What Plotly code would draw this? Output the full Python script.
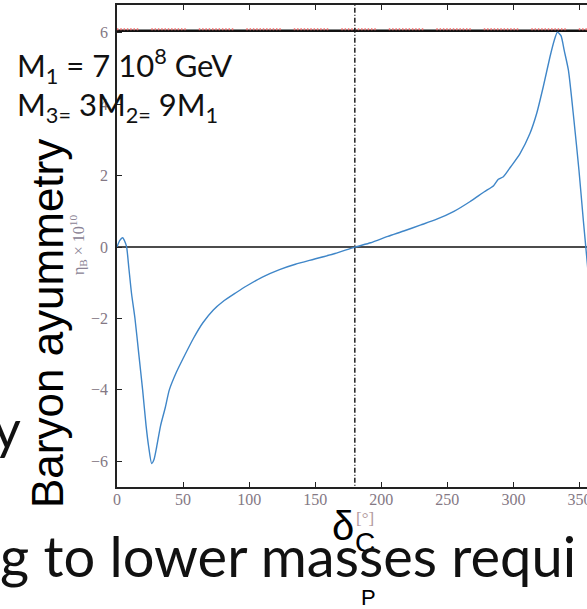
import plotly.graph_objects as go

# ---- data ----
delta_deg = [0, 2, 4.3, 6, 7.3, 9, 11, 13.6, 16.5, 19.4, 22, 24, 26.2, 28, 30, 33, 36.5,
             39.6, 45, 50, 57.8, 65, 72.9, 80, 90, 98, 110, 123, 135, 149, 165, 180, 192,
             205, 217, 230, 242, 255, 267, 278, 285, 288.6, 292.4, 298, 305, 312.5,
             317.6, 322.6, 327.7, 331, 333.3, 336, 338.5, 341.6, 345.8, 349.6, 352.9,
             354.8, 357, 360]
eta_B = [0.0, 0.18, 0.26, 0.15, 0.0, -0.6, -1.3, -2.0, -3.0, -4.0, -5.0, -5.6, -6.06,
         -5.95, -5.6, -5.0, -4.5, -4.0, -3.5, -3.12, -2.56, -2.12, -1.76, -1.53, -1.28,
         -1.09, -0.84, -0.63, -0.48, -0.34, -0.18, 0.0, 0.12, 0.3, 0.45, 0.62, 0.78, 1.0,
         1.27, 1.55, 1.72, 1.9, 1.97, 2.25, 2.62, 3.18, 3.74, 4.49, 5.33, 5.8, 6.02,
         5.92, 5.5, 4.96, 3.56, 2.16, 0.76, 0.0, -0.9, -2.2]
observed_eta = 6.08
cp_conserving = 180
x_ticks = [0, 50, 100, 150, 200, 250, 300, 350]
y_ticks = [-6, -4, -2, 0, 2, 4, 6]
x_range = [0, 355.7]
y_range = [-6.72, 6.78]

# ---- layout geometry (pixels) ----
W, H = 587, 609
L, R, T, B = 117, 587, 5, 487


def px(xp):
    return (xp - L) / (R - L)


def py(yp):
    return (B - yp) / (B - T)


fig = go.Figure()

# observed value band: black line + red dotted overlay
fig.add_trace(go.Scatter(x=[x_range[0] - 10, 370], y=[observed_eta - 0.02, observed_eta - 0.02], mode="lines",
                         line=dict(color="#111111", width=2.4), hoverinfo="skip", showlegend=False))
red_dash = ",".join(["1.5px,1.8px"] * 10 + ["1.5px,13px"])
fig.add_trace(go.Scatter(x=[x_range[0] - 10, 370], y=[observed_eta + 0.02, observed_eta + 0.02], mode="lines",
                         line=dict(color="#f07070", width=2, dash=red_dash), hoverinfo="skip",
                         showlegend=False))
# zero line
fig.add_trace(go.Scatter(x=[x_range[0] - 10, 370], y=[0, 0], mode="lines",
                         line=dict(color="#111111", width=1.4), hoverinfo="skip", showlegend=False))
# vertical dash-dot at 180
fig.add_trace(go.Scatter(x=[cp_conserving, cp_conserving], y=[y_range[0] - 1, y_range[1] + 1], mode="lines",
                         line=dict(color="#111111", width=1.4, dash="5px,2px,1px,2px"),
                         hoverinfo="skip", showlegend=False))
# asymmetry curve
fig.add_trace(go.Scatter(x=delta_deg, y=eta_B, mode="lines",
                         line=dict(color="#3f86c8", width=1.4, shape="spline", smoothing=0.6),
                         showlegend=False))

tick_font = dict(family="Liberation Serif", size=16, color="#847884")

fig.update_layout(
    width=W, height=H,
    margin=dict(l=L, r=W - R, t=T, b=H - B, pad=0),
    paper_bgcolor="white", plot_bgcolor="white",
    xaxis=dict(range=x_range, tickvals=x_ticks, ticks="inside", ticklen=5, tickwidth=1.2,
               tickcolor="#222", showline=True, linecolor="#222", linewidth=1.5, mirror="ticks",
               showgrid=False, zeroline=False, tickfont=tick_font, ticklabeloverflow="allow",
               ticklabelstandoff=-3, automargin=False),
    yaxis=dict(range=y_range, tickvals=y_ticks, ticks="inside", ticklen=5, tickwidth=1.2,
               tickcolor="#222", showline=True, linecolor="#222", linewidth=1.5, mirror=False,
               showgrid=False, zeroline=False, tickfont=tick_font, ticklabelstandoff=4,
               automargin=False),
)

ann = []


def add(text, xp, yp, size, family, color="#111111", xanchor="center", yanchor="middle", angle=0):
    ann.append(dict(text=text, x=px(xp), y=py(yp), xref="paper", yref="paper", showarrow=False,
                    xanchor=xanchor, yanchor=yanchor, textangle=angle,
                    font=dict(size=size, family=family, color=color)))


# original axis labels (small)
add("η<sub>B</sub> × 10<sup>10</sup>", 78, 245, 16, "Liberation Serif", color="#8a8294", angle=-90)
add("[°]", 365, 518, 17, "Liberation Serif", color="#b39a9e")

# slide overlay text
add("M<sub>1</sub> = 7 10<sup>8</sup> GeV", 15, 66, 31, "Lato", xanchor="left")
add("M<sub>3=</sub> 3M<sub>2=</sub> 9M<sub>1</sub>", 15, 106, 31, "Lato", xanchor="left")
add("Baryon ayummetry", 47, 324, 44, "Liberation Sans", color="#000000", angle=-90)
add("δ", 343, 526, 40, "Liberation Sans", color="#000000")
add("C", 364.5, 542, 28, "Liberation Sans", color="#000000")
add("P", 368, 597, 22, "Liberation Sans", color="#000000")
add("g to lower masses requi", -2, 555, 56, "Lato", xanchor="left")
add("y", 23, 428, 54, "Lato", xanchor="right")

fig.update_layout(annotations=ann)
fig.write_html("out.html")
